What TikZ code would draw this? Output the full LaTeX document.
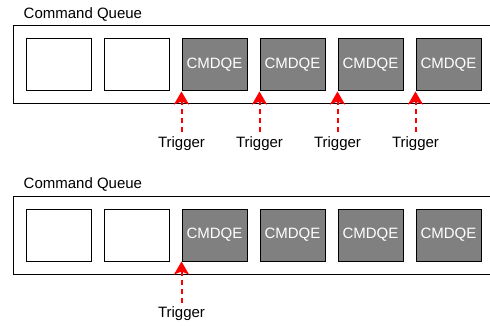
\documentclass[tikz,border=0pt]{standalone}
\usepackage{fontspec}
\setmainfont{Liberation Sans}
\usetikzlibrary{arrows.meta,positioning}
\definecolor{cmdgray}{RGB}{128,128,128}
\definecolor{trigred}{RGB}{255,0,0}

\begin{document}
\begin{tikzpicture}[
  x=1pt, y=-1pt,
  font=\fontsize{15}{17}\selectfont,
  queue/.style={draw, line width=1pt, minimum width=483pt, minimum height=78pt},
  slot/.style={draw, line width=1pt, fill=white, minimum width=65pt, minimum height=52pt, inner sep=0pt},
  cmd/.style={slot, fill=cmdgray, text=white},
  title/.style={anchor=base west, inner sep=0pt},
  lbl/.style={inner sep=4pt},
  trig/.style={-{Stealth[width=15pt, length=13pt, inset=3pt]}, draw=trigred, line width=2pt, dash pattern=on 5pt off 4pt}
]
\useasboundingbox (0,0) rectangle (490,326);

% top queue: every element triggered
\node[queue] (q1) at (254.5,65) {};
\node[title] (l1) at ([xshift=11pt, yshift=7pt]q1.north west) {Command Queue};
\node[slot] (a1) at (58.5,65) {};
\node[slot, right=12pt of a1] (a2) {};
\node[cmd, right=12pt of a2] (a3) {CMDQE};
\node[cmd, right=12pt of a3] (a4) {CMDQE};
\node[cmd, right=12pt of a4] (a5) {CMDQE};
\node[cmd, right=12pt of a5] (a6) {CMDQE};

\node[lbl, below=41pt of a3.south west] (t3) {Trigger};
\node[lbl, below=41pt of a4.south west] (t4) {Trigger};
\node[lbl, below=41pt of a5.south west] (t5) {Trigger};
\node[lbl, below=41pt of a6.south west] (t6) {Trigger};

\draw[trig] (t3.north) -- (a3.south west);
\draw[trig] (t4.north) -- (a4.south west);
\draw[trig] (t5.north) -- (a5.south west);
\draw[trig] (t6.north) -- (a6.south west);

% bottom queue: single trigger
\node[queue] (q2) at (254.5,235) {};
\node[title] (l2) at ([xshift=11pt, yshift=7pt]q2.north west) {Command Queue};
\node[slot] (b1) at (58.5,235) {};
\node[slot, right=12pt of b1] (b2) {};
\node[cmd, right=12pt of b2] (b3) {CMDQE};
\node[cmd, right=12pt of b3] (b4) {CMDQE};
\node[cmd, right=12pt of b4] (b5) {CMDQE};
\node[cmd, right=12pt of b5] (b6) {CMDQE};

\node[lbl, below=41pt of b3.south west] (u3) {Trigger};
\draw[trig] (u3.north) -- (b3.south west);
\end{tikzpicture}
\end{document}
